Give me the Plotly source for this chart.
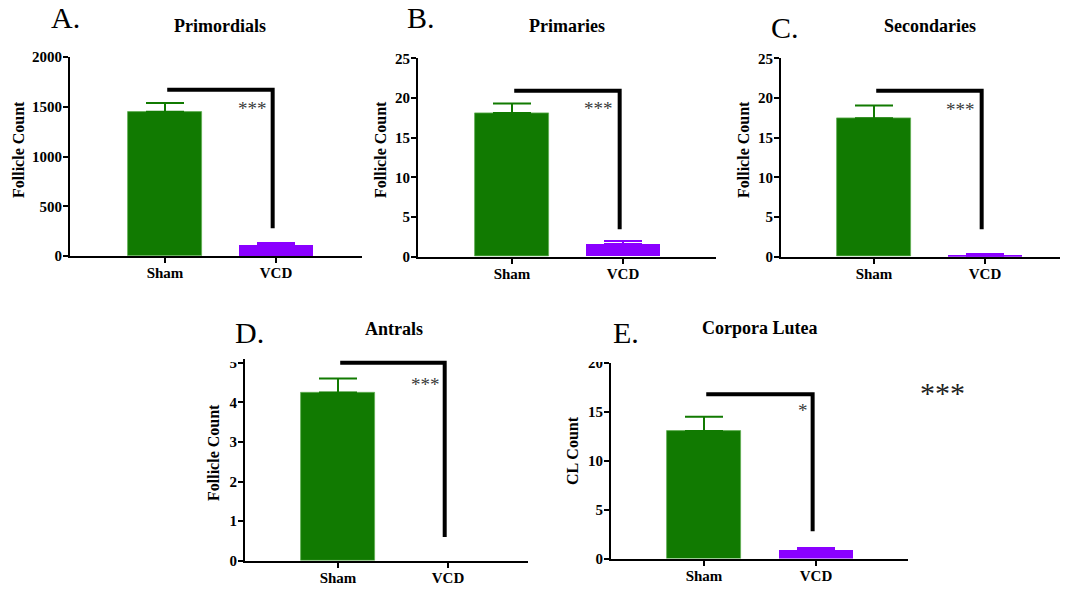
import plotly.graph_objects as go

# ---------------- data ----------------
panel_letters = ["A.", "B.", "C.", "D.", "E."]
panel_titles = ["Primordials", "Primaries", "Secondaries", "Antrals", "Corpora Lutea"]
y_titles = ["Follicle Count", "Follicle Count", "Follicle Count", "Follicle Count", "CL Count"]
groups = ["Sham", "VCD"]

sham_mean = [1450, 18.1, 17.45, 4.25, 13.05]
sham_err = [88, 1.2, 1.6, 0.35, 1.45]
vcd_mean = [110, 1.6, 0.1, 0, 0.85]
vcd_err = [20, 0.4, 0.25, None, 0.25]

y_max = [2000, 25, 25, 5, 20]
y_dtick = [500, 5, 5, 1, 5]

bracket_top = [1670, 20.9, 20.9, 5.0, 16.8]
bracket_bottom = [280, 3.45, 3.45, 0.6, 2.8]
sig_labels = ["***", "***", "***", "***", "*"]
extra_label = "***"

# ---------------- layout helpers ----------------
W, H = 1067, 590
def fx(p):
    return p / W
def fy(p):
    return 1 - p / H

geom = [
    dict(left=70, right=362, sham=165, sp=111, zero=256.0, top=57.0, head=0.0),
    dict(left=418, right=716, sham=512, sp=111, zero=256.7, top=58.3, head=0.0),
    dict(left=781, right=1060, sham=874, sp=111, zero=256.7, top=58.3, head=0.0),
    dict(left=245, right=528, sham=338, sp=110, zero=560.7, top=362.7, head=0.02),
    dict(left=611, right=908, sham=704, sp=112, zero=558.5, top=363.0, head=0.0),
]
letter_pos = [(49, 18), (405, 18), (769, 27), (233, 332), (611, 332)]
title_pos = [(220, 26), (567, 26), (930, 26), (394, 329), (760, 328)]
ytitle_pos = [(18, 150), (380, 150), (743, 150), (213, 453), (572, 451)]
sig_pos = [(252, 103), (598, 104), (960, 105), (425, 379), (803, 405)]

GREEN = "#117A01"
PURPLE = "#8A00FF"
SERIF = "Liberation Serif, Times New Roman, serif"

fig = go.Figure()
annotations = []
shapes = []
xpos = list(range(len(groups)))

for i in range(5):
    g = geom[i]
    ax = "" if i == 0 else str(i + 1)
    xa, ya = "x" + ax, "y" + ax
    scale = (g["zero"] - g["top"]) / y_max[i]
    ytop_val = y_max[i] * (1 + g["head"])
    top_px = g["zero"] - ytop_val * scale
    xr = [(g["left"] - g["sham"]) / g["sp"], (g["right"] - g["sham"]) / g["sp"]]

    fig.add_trace(go.Bar(
        x=[xpos[0]], y=[sham_mean[i]], xaxis=xa, yaxis=ya, width=0.667,
        marker=dict(color=GREEN, line=dict(color="#5fae52", width=0.8)),
        error_y=dict(type="data", array=[sham_err[i]], arrayminus=[0], symmetric=False,
                     color=GREEN, thickness=2, width=19),
        showlegend=False, hoverinfo="skip"))
    err = vcd_err[i]
    fig.add_trace(go.Bar(
        x=[xpos[1]], y=[vcd_mean[i]], xaxis=xa, yaxis=ya, width=0.667,
        marker=dict(color=PURPLE, line=dict(width=0)),
        error_y=dict(type="data", array=[err if err is not None else 0], arrayminus=[0],
                     symmetric=False, color=PURPLE, thickness=2, width=19,
                     visible=err is not None),
        showlegend=False, hoverinfo="skip"))
    fig.add_trace(go.Scatter(
        x=[0.02, 0.97, 0.97], y=[bracket_top[i], bracket_top[i], bracket_bottom[i]],
        xaxis=xa, yaxis=ya, mode="lines", line=dict(color="black", width=4),
        cliponaxis=False, showlegend=False, hoverinfo="skip"))

    axis_common = dict(showline=True, linecolor="black", linewidth=2, ticks="outside",
                       tickcolor="black", tickwidth=2, showgrid=False, zeroline=False,
                       automargin=False,
                       tickfont=dict(family=SERIF, size=15, color="black", weight="bold"))
    fig.update_layout(**{
        ("xaxis" + ax): dict(domain=[fx(g["left"]), fx(g["right"])], range=xr,
                             tickmode="array", tickvals=xpos, ticktext=groups,
                             anchor=ya, ticklen=5, ticklabelstandoff=-3, **axis_common),
        ("yaxis" + ax): dict(domain=[fy(g["zero"]), fy(top_px)], range=[0, ytop_val],
                             anchor=xa, dtick=y_dtick[i], tick0=0, ticklen=5,
                             ticklabelstandoff=-2, **axis_common),
    })

    lx, ly = letter_pos[i]
    annotations.append(dict(text=panel_letters[i], x=fx(lx), y=fy(ly), xref="paper", yref="paper",
                            xanchor="left", yanchor="middle", showarrow=False,
                            font=dict(family=SERIF, size=30, color="black")))
    tx, ty = title_pos[i]
    annotations.append(dict(text=panel_titles[i], x=fx(tx), y=fy(ty), xref="paper", yref="paper",
                            xanchor="center", yanchor="middle", showarrow=False,
                            font=dict(family=SERIF, size=18, color="black", weight="bold")))
    yx, yy = ytitle_pos[i]
    annotations.append(dict(text=y_titles[i], x=fx(yx), y=fy(yy), xref="paper", yref="paper",
                            xanchor="center", yanchor="middle", showarrow=False, textangle=-90,
                            font=dict(family=SERIF, size=16, color="black", weight="bold")))
    sx, sy = sig_pos[i]
    annotations.append(dict(text=sig_labels[i], x=fx(sx), y=fy(sy + 5), xref="paper", yref="paper",
                            xanchor="center", yanchor="middle", showarrow=False,
                            font=dict(family=SERIF, size=19, color="#3a3a3a")))

annotations.append(dict(text=extra_label, x=fx(942), y=fy(392), xref="paper", yref="paper",
                        xanchor="center", yanchor="middle", showarrow=False,
                        font=dict(family=SERIF, size=30, color="#222222")))

shapes.append(dict(type="rect", xref="paper", yref="paper", layer="above",
                   x0=fx(222), x1=fx(243), y0=fy(353), y1=fy(362), fillcolor="white",
                   line=dict(width=0)))
shapes.append(dict(type="rect", xref="paper", yref="paper", layer="above",
                   x0=fx(580), x1=fx(609), y0=fy(353), y1=fy(362), fillcolor="white",
                   line=dict(width=0)))

fig.update_layout(width=W, height=H, margin=dict(l=0, r=0, t=0, b=0, pad=0, autoexpand=False),
                  paper_bgcolor="white", plot_bgcolor="white", annotations=annotations,
                  shapes=shapes, bargap=0, showlegend=False)

fig.write_html("out.html")
